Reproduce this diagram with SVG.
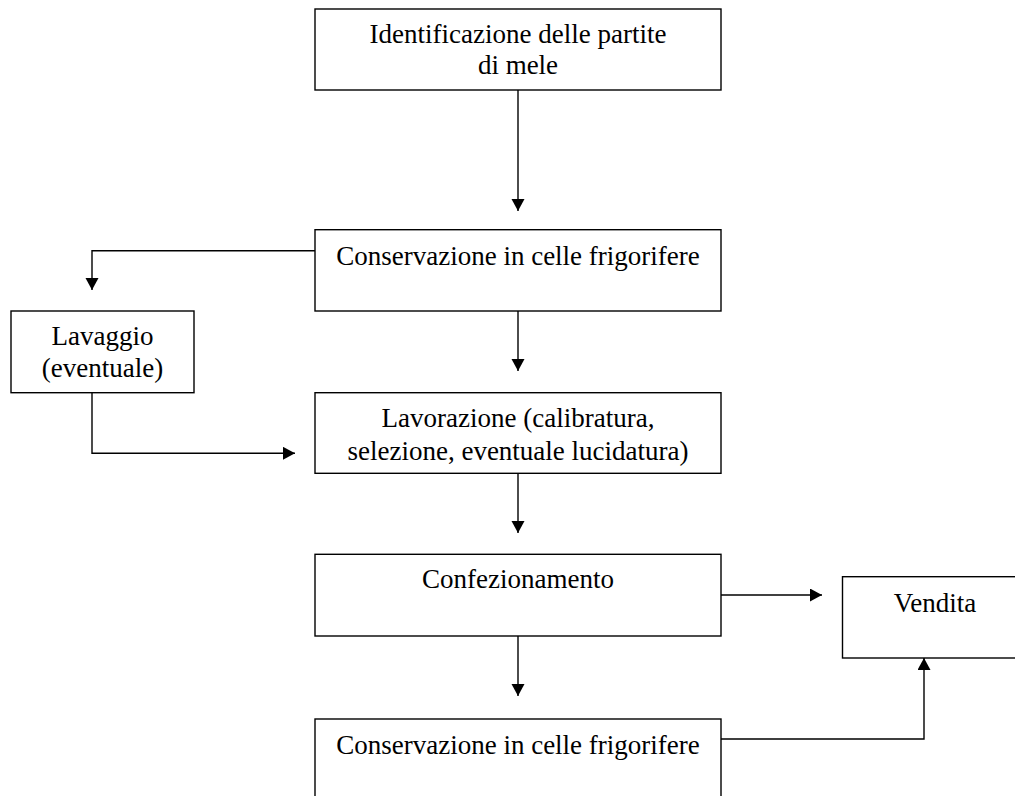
<svg xmlns="http://www.w3.org/2000/svg" width="1015" height="796" viewBox="0 0 1015 796">
<style>
.box{fill:#fff;stroke:#000;stroke-width:1.4}
.t{font-family:"Liberation Serif","Times New Roman",serif;font-size:27px;fill:#000;text-anchor:middle}
.c{fill:none;stroke:#000;stroke-width:1.4}
</style>
<defs>
<marker id="ah" markerUnits="userSpaceOnUse" markerWidth="13" markerHeight="14" refX="12" refY="6.5" orient="auto">
<path d="M0,0 L12,6.5 L0,13 z" fill="#000"/>
</marker>
</defs>
<rect width="1015" height="796" fill="#fff"/>
<g id="connectors">
<path class="c" d="M518,90 V211" marker-end="url(#ah)"/>
<path class="c" d="M315,250.7 H92 V290" marker-end="url(#ah)"/>
<path class="c" d="M518,311 V371" marker-end="url(#ah)"/>
<path class="c" d="M92,392.7 V453.3 H295" marker-end="url(#ah)"/>
<path class="c" d="M518,473 V533" marker-end="url(#ah)"/>
<path class="c" d="M721,595 H822" marker-end="url(#ah)"/>
<path class="c" d="M518,636 V696" marker-end="url(#ah)"/>
<path class="c" d="M721,739 H924 V658" marker-end="url(#ah)"/>
</g>
<g id="n1">
<rect class="box" x="315" y="9" width="406" height="81"/>
<text class="t" x="518" y="43">Identificazione delle partite</text>
<text class="t" x="518" y="74">di mele</text>
</g>
<g id="n2">
<rect class="box" x="315" y="229.7" width="406" height="81.3"/>
<text class="t" x="518" y="265">Conservazione in celle frigorifere</text>
</g>
<g id="n3">
<rect class="box" x="11" y="311" width="183" height="81.7"/>
<text class="t" x="102.5" y="345">Lavaggio</text>
<text class="t" x="102.5" y="376.7">(eventuale)</text>
</g>
<g id="n4">
<rect class="box" x="315" y="392.7" width="406" height="80.6"/>
<text class="t" x="518" y="426.7">Lavorazione (calibratura,</text>
<text class="t" x="518" y="460">selezione, eventuale lucidatura)</text>
</g>
<g id="n5">
<rect class="box" x="315" y="554.3" width="406" height="81.7"/>
<text class="t" x="518" y="588">Confezionamento</text>
</g>
<g id="n6">
<rect class="box" x="842.5" y="576.7" width="186" height="81.3"/>
<text class="t" x="935" y="611.7">Vendita</text>
</g>
<g id="n7">
<rect class="box" x="315" y="719" width="406" height="100"/>
<text class="t" x="518" y="754">Conservazione in celle frigorifere</text>
</g>
</svg>
